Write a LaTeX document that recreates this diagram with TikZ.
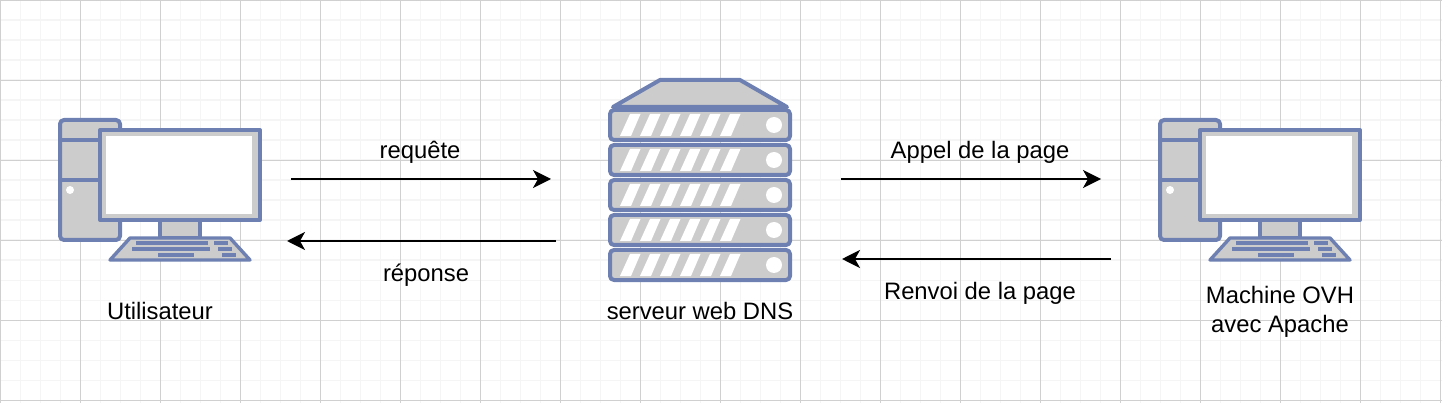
\documentclass[tikz,border=0pt]{standalone}
\usepackage{fontspec}
\setmainfont{Liberation Sans}
\usetikzlibrary{arrows.meta}
\definecolor{iconblue}{HTML}{6E80B1}
\definecolor{icongray}{HTML}{CCCCCC}
\definecolor{gridmajor}{HTML}{D0D0D0}
\definecolor{gridminor}{HTML}{F5F5F5}
\tikzset{
  x=1pt,y=-1pt,
  outline/.style={draw=iconblue,fill=icongray,line width=4pt,line join=round},
  keyrect/.style={fill=iconblue,draw=none},
  hole/.style={fill=white,draw=none},
  flow/.style={draw=black,line width=2pt,-{Stealth[length=18pt,width=18pt,inset=5pt]}},
  caption/.style={font=\fontsize{23.8pt}{29pt}\selectfont,text=black,inner sep=0pt,align=center,anchor=center},
  pics/computer/.style={code={
    \draw[outline,rounded corners=4pt] (60,120) rectangle (120,240);
    \draw[draw=iconblue,line width=4pt] (60,140) -- (100,140) (60,180) -- (100,180);
    \fill[hole] (70,190) circle (4);
    \draw[outline] (160,220) rectangle (200,238);
    \draw[outline] (100,130) rectangle (260,220);
    \fill[hole] (105.7,135.7) rectangle (252.3,214);
    \draw[outline,line width=3.4pt] (130,238) -- (230,238) -- (250,260) -- (110,260) -- cycle;
    \fill[keyrect] (136,241) rectangle (208,245);
    \fill[keyrect] (214,241) rectangle (228,245);
    \fill[keyrect] (132,247) rectangle (210,251);
    \fill[keyrect] (218,247) rectangle (232,251);
    \fill[keyrect] (158,253) rectangle (194,257);
    \fill[keyrect] (222,253) rectangle (236,257);
  }},
  pics/rackunit/.style={code={
    \draw[outline,rounded corners=4pt] (610,0) rectangle (790,30);
    \foreach \k in {0,...,5}
      \fill[hole] ({620+20*\k},26) -- ({631+20*\k},26) -- ({640.5+20*\k},4) -- ({630+20*\k},4) -- cycle;
    \fill[hole] (774,15) circle (8);
  }}
}
\begin{document}
\begin{tikzpicture}
\useasboundingbox (0,0) rectangle (1442,403);
\fill[white] (0,0) rectangle (1442,403);
% grid
\foreach \i in {0,...,72} \draw[gridminor,line width=1.4pt] ({20*\i+0.2},0) -- ({20*\i+0.2},403);
\foreach \j in {0,...,20} \draw[gridminor,line width=1.4pt] (0,{20*\j+0.2}) -- (1442,{20*\j+0.2});
\foreach \i in {0,...,18} \draw[gridmajor,line width=1pt] ({80*\i+0.5},0) -- ({80*\i+0.5},403);
\foreach \j in {0,...,5} \draw[gridmajor,line width=1pt] (0,{80*\j+0.5}) -- (1442,{80*\j+0.5});
% icons
\pic at (0,0) {computer};
\pic at (1100,0) {computer};
\draw[outline] (660,80) -- (740,80) -- (787,107) -- (613,107) -- cycle;
\foreach \yy in {110,145,180,215,250} \pic at (0,\yy) {rackunit};
% end points
\coordinate (reqA) at (291,179);
\coordinate (reqB) at (551,179);
\coordinate (repA) at (556,241);
\coordinate (repB) at (287,241);
\coordinate (appA) at (841,179);
\coordinate (appB) at (1101,179);
\coordinate (renA) at (1111,259);
\coordinate (renB) at (842,259);
\draw[flow] (reqA) -- (reqB);
\draw[flow] (repA) -- (repB);
\draw[flow] (appA) -- (appB);
\draw[flow] (renA) -- (renB);
% labels
\node[caption] (lreq) at (420,152) {requête};
\node[caption] (lrep) at (426,275) {réponse};
\node[caption] (lapp) at (980,152) {Appel de la page};
\node[caption] (lren) at (980,293) {Renvoi de la page};
\node[caption] (luser) at (160,311) {Utilisateur};
\node[caption] (lsrv) at (700,311) {serveur web DNS};
\node[caption] (lmach) at (1280,312) {Machine OVH\\avec Apache};
\end{tikzpicture}
\end{document}
